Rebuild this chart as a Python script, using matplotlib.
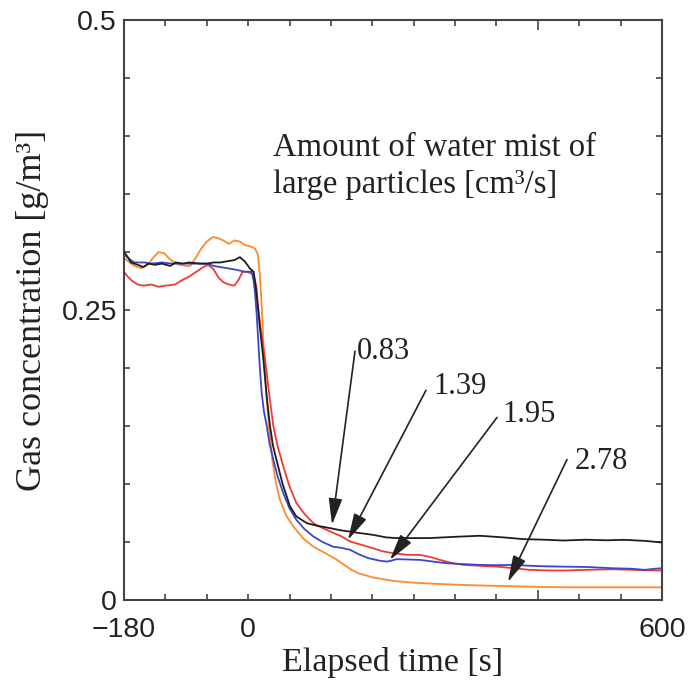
import matplotlib
matplotlib.use("Agg")
import matplotlib.pyplot as plt
from matplotlib.ticker import MultipleLocator, FixedLocator

# ---- data ----
t_black = [-180, -175, -170, -160, -152, -145, -135, -125, -113, -105, -95, -85, -70, -60, -50, -40, -31, -20, -12, -5, 3, 8, 12, 17, 22, 27, 31.7, 36, 41, 50, 60.7, 70, 85, 100, 118.7, 135, 147.6, 162, 181, 200, 215, 240, 263, 300, 336, 370, 399, 430, 457, 490, 520, 545, 575, 600]
y_black = [0.300, 0.296, 0.291, 0.289, 0.287, 0.290, 0.289, 0.290, 0.288, 0.291, 0.290, 0.291, 0.290, 0.290, 0.291, 0.291, 0.292, 0.293, 0.2956, 0.292, 0.2855, 0.283, 0.265, 0.235, 0.208, 0.175, 0.150, 0.133, 0.121, 0.100, 0.0807, 0.072, 0.0663, 0.064, 0.062, 0.060, 0.059, 0.0577, 0.0562, 0.054, 0.0534, 0.0534, 0.0534, 0.0545, 0.0554, 0.054, 0.0525, 0.052, 0.0513, 0.052, 0.0515, 0.0519, 0.051, 0.0496]

t_red = [-180, -175, -168, -160, -152, -140, -130, -120, -106, -95, -85, -75, -65, -58, -50, -43, -36, -28, -20, -14, -8, -2, 3, 8, 12, 14, 19, 24.4, 30, 36.5, 43, 51, 60, 70, 82, 94.5, 108, 123, 135, 147.6, 162, 181, 195, 210, 230, 249, 265, 278, 295, 312, 335, 360, 385, 408, 435, 457, 490, 529, 560, 600]
y_red = [0.283, 0.279, 0.275, 0.272, 0.271, 0.272, 0.270, 0.271, 0.272, 0.276, 0.279, 0.283, 0.287, 0.289, 0.285, 0.278, 0.274, 0.272, 0.271, 0.276, 0.283, 0.283, 0.282, 0.280, 0.270, 0.255, 0.230, 0.208, 0.180, 0.150, 0.132, 0.115, 0.098, 0.0836, 0.074, 0.0663, 0.062, 0.058, 0.055, 0.0505, 0.048, 0.0447, 0.042, 0.0404, 0.039, 0.0389, 0.037, 0.0346, 0.032, 0.0303, 0.0295, 0.0288, 0.0275, 0.026, 0.0255, 0.0254, 0.026, 0.0265, 0.026, 0.0254]

t_blue = [-180, -172, -165, -150, -140, -125, -110, -95, -80, -60, -50, -40, -30, -20, -12, -5, 2, 5.1, 8, 10, 12.5, 14.8, 17, 19.6, 23, 27, 31, 36.5, 43, 51, 60, 70, 82, 94.5, 108, 123, 135, 147.6, 162, 175, 190, 201, 208, 215, 230, 249, 270, 288, 310, 336, 360, 384, 410, 435, 457, 490, 529, 555, 575, 590, 600]
y_blue = [0.298, 0.294, 0.291, 0.291, 0.290, 0.291, 0.290, 0.290, 0.290, 0.290, 0.288, 0.287, 0.286, 0.285, 0.284, 0.283, 0.283, 0.283, 0.275, 0.265, 0.245, 0.222, 0.200, 0.179, 0.162, 0.150, 0.135, 0.121, 0.106, 0.092, 0.079, 0.069, 0.061, 0.0548, 0.050, 0.046, 0.045, 0.0433, 0.039, 0.036, 0.034, 0.0331, 0.034, 0.0352, 0.035, 0.0346, 0.033, 0.0317, 0.031, 0.0303, 0.030, 0.0303, 0.0295, 0.029, 0.0288, 0.0285, 0.0274, 0.027, 0.026, 0.027, 0.0274]

t_orange = [-180, -172, -165, -155, -145, -138, -130, -122, -112, -100, -90, -84, -76, -68, -60, -51, -44, -36, -28, -20, -12, -5, 3, 10, 14, 17, 20, 23, 26, 30, 35, 40, 46, 55, 65.5, 80, 94.5, 110, 128, 140, 150, 160, 181, 210, 239, 270, 311, 340, 370, 410, 456, 500, 550, 600]
y_orange = [0.295, 0.291, 0.288, 0.286, 0.289, 0.295, 0.300, 0.299, 0.293, 0.289, 0.288, 0.288, 0.295, 0.303, 0.309, 0.313, 0.312, 0.310, 0.307, 0.310, 0.309, 0.306, 0.305, 0.303, 0.298, 0.280, 0.250, 0.210, 0.180, 0.150, 0.121, 0.102, 0.0865, 0.073, 0.0634, 0.053, 0.046, 0.041, 0.035, 0.030, 0.026, 0.023, 0.0195, 0.0165, 0.015, 0.014, 0.013, 0.0125, 0.0121, 0.0115, 0.011, 0.011, 0.011, 0.011]

labels = ["0.83", "1.39", "1.95", "2.78"]
arrow_tip = [(121.6, 0.0649), (144.8, 0.0519), (205.6, 0.0346), (376.7, 0.0156)]
arrow_tail = [(154.9, 0.2145), (257.8, 0.1808), (360.8, 0.1574), (462.3, 0.1211)]
label_pos = [(158, 0.2145), (268, 0.1840), (369, 0.1600), (474, 0.1190)]

xticks_major = [-180, 0, 420, 600]
xtick_labels = ["\u2212180", "0", "", "600"]
yticks_major = [0, 0.25, 0.5]
ytick_labels = ["0", "0.25", "0.5"]

# ---- figure ----
fig = plt.figure(figsize=(6.9, 6.81), dpi=100)
ax = fig.add_axes([0.1797, 0.1189, 0.7797, 0.8517])

lw = 1.3
ax.plot(t_black, y_black, color="#1e1e1e", lw=lw, zorder=4)
ax.plot(t_blue, y_blue, color="#3b46c8", lw=lw, zorder=3)
ax.plot(t_red, y_red, color="#f03a3a", lw=lw, zorder=2)
ax.plot(t_orange, y_orange, color="#ff8a2e", lw=lw, zorder=1)

ax.set_xlim(-180, 600)
ax.set_ylim(0, 0.5)

serif = ["Liberation Serif", "DejaVu Serif"]
sans = ["Liberation Sans", "DejaVu Sans"]

ax.xaxis.set_major_locator(FixedLocator(xticks_major))
ax.set_xticklabels(xtick_labels)
ax.xaxis.set_minor_locator(MultipleLocator(60))
ax.yaxis.set_major_locator(FixedLocator(yticks_major))
ax.set_yticklabels(ytick_labels)
ax.yaxis.set_minor_locator(MultipleLocator(0.05))

ax.tick_params(which="both", direction="in", top=True, right=True,
               color="#444444", width=1.2)
ax.tick_params(which="major", length=4, labelsize=20.5)
ax.tick_params(axis="x", which="major", pad=12)
ax.tick_params(axis="y", which="major", pad=5)
ax.tick_params(which="minor", length=4)
for lab in ax.get_xticklabels() + ax.get_yticklabels():
    lab.set_fontfamily(sans)
    lab.set_color("#222222")
# longer tick at 420
for tk in ax.xaxis.get_major_ticks():
    if abs(tk.get_loc() - 420) < 1e-6:
        tk.tick1line.set_markersize(7)
        tk.tick2line.set_markersize(7)

for sp in ax.spines.values():
    sp.set_color("#444444")
    sp.set_linewidth(1.5)

ax.set_xlabel("Elapsed time [s]", fontsize=24.5, family=serif, color="#222222", labelpad=3)
ax.set_ylabel("Gas concentration [g/m\u00b3]", fontsize=26, family=serif, color="#222222", labelpad=9)

ax.text(36, 0.374, "Amount of water mist of\nlarge particles [cm\u00b3/s]",
        fontsize=23.5, family=serif, color="#222222", va="center", ha="left",
        linespacing=1.3)

for lab, tip, tail, pos in zip(labels, arrow_tip, arrow_tail, label_pos):
    ax.annotate("", xy=tip, xytext=tail,
                arrowprops=dict(arrowstyle="-|>,head_length=0.85,head_width=0.22",
                                color="#222222", lw=1.2,
                                mutation_scale=19, shrinkA=0, shrinkB=0))
    ax.text(pos[0], pos[1], lab, fontsize=22, family=serif, color="#222222",
            ha="left", va="center")

fig.savefig("out.png", dpi=100)
